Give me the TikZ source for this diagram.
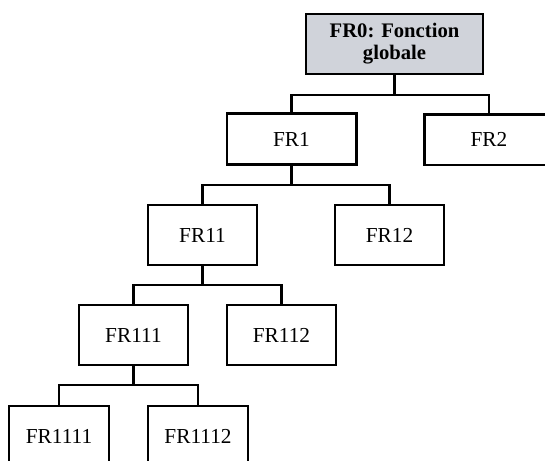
\documentclass[tikz,border=0pt]{standalone}
\usepackage{fontspec}
\setmainfont{Liberation Serif}
\usepackage{tikz}
\usetikzlibrary{positioning}
\definecolor{RootGray}{HTML}{D0D3DA}
\tikzset{
  rootnode/.style={draw=black,fill=RootGray,line width=2pt,
    minimum width=132.75pt,minimum height=45pt,
    font=\fontsize{15.5}{16.5}\selectfont\bfseries,
    align=center,inner sep=2pt},
  frnode/.style={draw=black,fill=white,line width=2pt,
    minimum width=81.75pt,minimum height=45pt,
    font=\fontsize{16}{17}\selectfont,
    align=center,inner sep=2pt},
  frwide/.style={frnode,minimum width=97pt,minimum height=38pt},
  frleaf/.style={frnode,minimum width=75pt},
  link/.style={line width=1.8pt,draw=black},
}

\begin{document}
\begin{tikzpicture}[x=0.75pt,y=-0.75pt]
  \clip (0,0) rectangle (545,460);
  \fill[white] (0,0) rectangle (545,460);
  \node[rootnode] (fr0) at (394.5, 44) {FR0: Fonction\\globale};
  \node[frwide] (fr1) at (291.5,139) {FR1};
  \node[frwide] (fr2) at (489,139.5) {FR2};
  \node[frnode] (fr11) at (202.5,235) {FR11};
  \node[frnode] (fr12) at (389.5,235) {FR12};
  \node[frnode] (fr111) at (133.5,335) {FR111};
  \node[frnode] (fr112) at (281.5,335) {FR112};
  \node[frleaf] (fr1111) at (59,436) {FR1111};
  \node[frleaf] (fr1112) at (198,436) {FR1112};
  % elbow connectors
  \draw[link] (fr0.south) -- (fr0.south |- 0,95) -| (fr1.north);
  \draw[link] (fr0.south) -- (fr0.south |- 0,95) -| (fr2.north);
  \draw[link] (fr1.south) -- (fr1.south |- 0,185) -| (fr11.north);
  \draw[link] (fr1.south) -- (fr1.south |- 0,185) -| (fr12.north);
  \draw[link] (fr11.south) -- (fr11.south |- 0,285) -| (fr111.north);
  \draw[link] (fr11.south) -- (fr11.south |- 0,285) -| (fr112.north);
  \draw[link] (fr111.south) -- (fr111.south |- 0,385) -| (fr1111.north);
  \draw[link] (fr111.south) -- (fr111.south |- 0,385) -| (fr1112.north);
\end{tikzpicture}
\end{document}
